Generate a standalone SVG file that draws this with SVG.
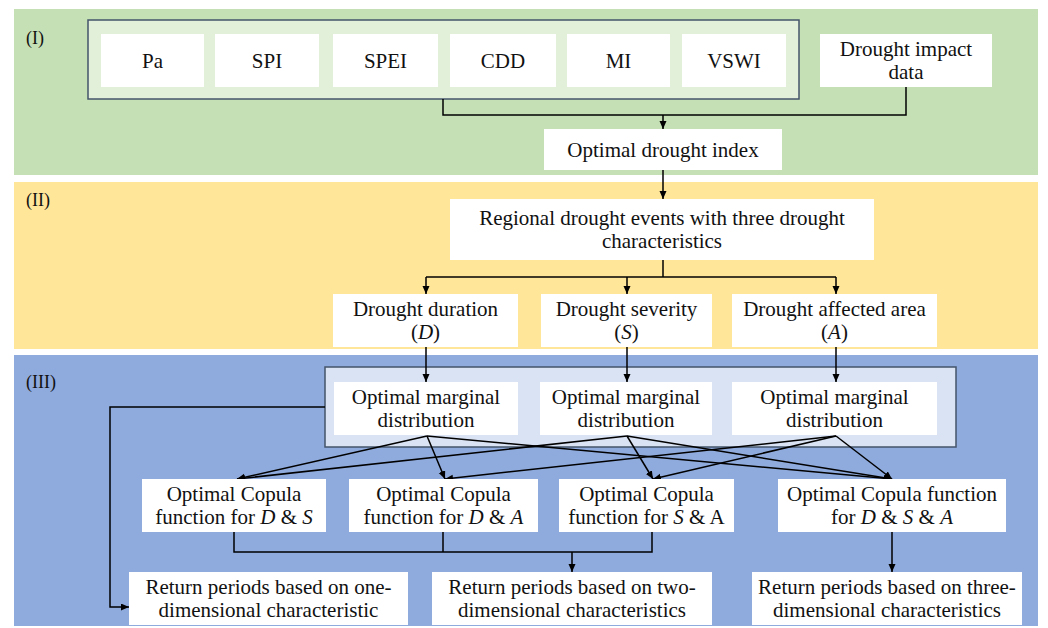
<svg xmlns="http://www.w3.org/2000/svg" width="1048" height="628" viewBox="0 0 1048 628">
<style>
.t{font-size:21px;fill:#111;text-anchor:middle}
.lbl{font-size:18px;fill:#111}
.box{fill:#ffffff}
.grp{stroke:#44546a;stroke-width:1.5}
.c{fill:none;stroke:#000;stroke-width:1.5}
.a{fill:none;stroke:#000;stroke-width:1.5;marker-end:url(#ah)}
.i{font-style:italic}
</style>
<defs>
<marker id="ah" markerUnits="userSpaceOnUse" markerWidth="9" markerHeight="8" refX="8" refY="3.5" orient="auto">
<path d="M0,0 L8,3.5 L0,7 z" fill="#000"/>
</marker>
</defs>
<rect width="1048" height="628" fill="#ffffff"/>
<g font-family="Liberation Serif, Times New Roman, DejaVu Serif, serif">
<g id="panel-I">
<rect x="14" y="9" width="1024" height="166" fill="#c5e0b4"/>
<text class="lbl" x="26" y="44">(I)</text>
<rect class="grp" x="88" y="20" width="711" height="79" fill="#e2f0d9"/>
</g>
<g id="panel-II">
<rect x="14" y="182" width="1024" height="167" fill="#ffe699"/>
<text class="lbl" x="26" y="206">(II)</text>
</g>
<g id="panel-III">
<rect x="14" y="355" width="1024" height="271" fill="#8faadc"/>
<text class="lbl" x="26" y="388">(III)</text>
<rect class="grp" x="325" y="367" width="631" height="80" fill="#dae3f3"/>
</g>
<g id="connectors">
<polyline class="c" points="443,99 443,115 906,115 906,87"/>
<line class="a" x1="663" y1="115" x2="663" y2="129"/>
<line class="a" x1="663" y1="170" x2="663" y2="199"/>
<polyline class="c" points="663,260 663,277"/>
<polyline class="c" points="426,277 836,277"/>
<line class="a" x1="426" y1="277" x2="426" y2="294"/>
<line class="a" x1="627" y1="277" x2="627" y2="294"/>
<line class="a" x1="836" y1="277" x2="836" y2="294"/>
<line class="a" x1="426" y1="347" x2="426" y2="382"/>
<line class="a" x1="627" y1="347" x2="627" y2="382"/>
<line class="a" x1="836" y1="347" x2="836" y2="382"/>
<polyline class="a" points="325,407 110,407 110,607 129,607"/>
<line class="a" x1="427" y1="436" x2="237" y2="479"/>
<line class="a" x1="427" y1="436" x2="445" y2="479"/>
<line class="a" x1="427" y1="436" x2="892" y2="479"/>
<line class="a" x1="627" y1="436" x2="237" y2="479"/>
<line class="a" x1="627" y1="436" x2="653" y2="479"/>
<line class="a" x1="627" y1="436" x2="892" y2="479"/>
<line class="a" x1="836" y1="436" x2="445" y2="479"/>
<line class="a" x1="836" y1="436" x2="653" y2="479"/>
<line class="a" x1="836" y1="436" x2="892" y2="479"/>
<polyline class="c" points="234,532 234,552 652,552 652,532"/>
<line class="c" x1="443" y1="532" x2="443" y2="552"/>
<line class="a" x1="572" y1="552" x2="572" y2="572"/>
<line class="a" x1="892" y1="532" x2="892" y2="572"/>
</g>
<g id="n-pa"><rect class="box" x="101" y="34" width="103" height="53"/><text class="t" x="152.5" y="67.5">Pa</text></g>
<g id="n-spi"><rect class="box" x="215" y="34" width="104" height="53"/><text class="t" x="267" y="67.5">SPI</text></g>
<g id="n-spei"><rect class="box" x="333" y="34" width="105" height="53"/><text class="t" x="385.5" y="67.5">SPEI</text></g>
<g id="n-cdd"><rect class="box" x="450" y="34" width="106" height="53"/><text class="t" x="503" y="67.5">CDD</text></g>
<g id="n-mi"><rect class="box" x="567" y="34" width="103" height="53"/><text class="t" x="618.5" y="67.5">MI</text></g>
<g id="n-vswi"><rect class="box" x="682" y="34" width="104" height="53"/><text class="t" x="734" y="67.5">VSWI</text></g>
<g id="n-impact"><rect class="box" x="820" y="34" width="172" height="53"/><text class="t" x="906" y="56">Drought impact</text><text class="t" x="906" y="79">data</text></g>
<g id="n-optimal-index"><rect class="box" x="544" y="129" width="238" height="41"/><text class="t" x="663" y="156.5">Optimal drought index</text></g>
<g id="n-regional"><rect class="box" x="450" y="199" width="424" height="61"/><text class="t" x="662" y="225">Regional drought events with three drought</text><text class="t" x="662" y="248">characteristics</text></g>
<g id="n-duration"><rect class="box" x="333" y="294" width="185" height="53"/><text class="t" x="425.5" y="316">Drought duration</text><text class="t" x="425.5" y="339">(<tspan class="i">D</tspan>)</text></g>
<g id="n-severity"><rect class="box" x="541" y="294" width="171" height="53"/><text class="t" x="626.5" y="316">Drought severity</text><text class="t" x="626.5" y="339">(<tspan class="i">S</tspan>)</text></g>
<g id="n-area"><rect class="box" x="732" y="294" width="205" height="53"/><text class="t" x="834.5" y="316">Drought affected area</text><text class="t" x="834.5" y="339">(<tspan class="i">A</tspan>)</text></g>
<g id="n-marg-d"><rect class="box" x="334" y="382" width="184" height="53"/><text class="t" x="426" y="404">Optimal marginal</text><text class="t" x="426" y="427">distribution</text></g>
<g id="n-marg-s"><rect class="box" x="540" y="382" width="172" height="53"/><text class="t" x="626" y="404">Optimal marginal</text><text class="t" x="626" y="427">distribution</text></g>
<g id="n-marg-a"><rect class="box" x="732" y="382" width="205" height="53"/><text class="t" x="834.5" y="404">Optimal marginal</text><text class="t" x="834.5" y="427">distribution</text></g>
<g id="n-cop-ds"><rect class="box" x="142" y="479" width="184" height="53"/><text class="t" x="234" y="501">Optimal Copula</text><text class="t" x="234" y="524">function for <tspan class="i">D</tspan> &amp; <tspan class="i">S</tspan></text></g>
<g id="n-cop-da"><rect class="box" x="349" y="479" width="189" height="53"/><text class="t" x="443.5" y="501">Optimal Copula</text><text class="t" x="443.5" y="524">function for <tspan class="i">D</tspan> &amp; <tspan class="i">A</tspan></text></g>
<g id="n-cop-sa"><rect class="box" x="559" y="479" width="175" height="53"/><text class="t" x="646.5" y="501">Optimal Copula</text><text class="t" x="646.5" y="524">function for <tspan class="i">S</tspan> &amp; A</text></g>
<g id="n-cop-dsa"><rect class="box" x="778" y="479" width="228" height="53"/><text class="t" x="892" y="501">Optimal Copula function</text><text class="t" x="892" y="524">for <tspan class="i">D</tspan> &amp; <tspan class="i">S</tspan> &amp; <tspan class="i">A</tspan></text></g>
<g id="n-ret-1"><rect class="box" x="129" y="572" width="279" height="53"/><text class="t" x="268.5" y="594">Return periods based on one-</text><text class="t" x="268.5" y="617">dimensional characteristic</text></g>
<g id="n-ret-2"><rect class="box" x="432" y="572" width="280" height="53"/><text class="t" x="572" y="594">Return periods based on two-</text><text class="t" x="572" y="617">dimensional characteristics</text></g>
<g id="n-ret-3"><rect class="box" x="752" y="572" width="270" height="53"/><text class="t" x="887" y="594">Return periods based on three-</text><text class="t" x="887" y="617">dimensional characteristics</text></g>
</g>
</svg>
